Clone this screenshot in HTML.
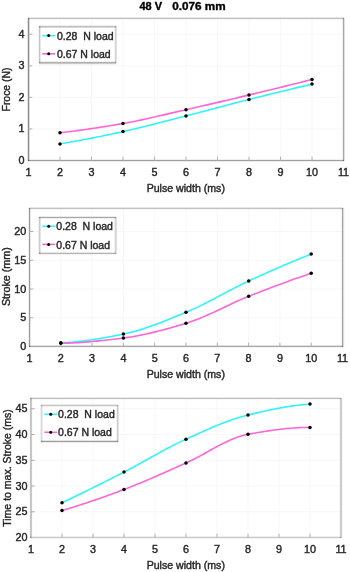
<!DOCTYPE html>
<html><head><meta charset="utf-8"><style>
html,body{margin:0;padding:0;background:#fff;width:350px;height:572px;overflow:hidden}
svg{display:block;will-change:transform}
text{font-family:"Liberation Sans",sans-serif}
</style></head><body>
<svg width="350" height="572" viewBox="0 0 350 572">
<rect width="350" height="572" fill="#fff"/>
<g stroke="#f7f7f7" stroke-width="1">
<line x1="60.00" y1="18.5" x2="60.00" y2="160.5"/>
<line x1="91.50" y1="18.5" x2="91.50" y2="160.5"/>
<line x1="123.00" y1="18.5" x2="123.00" y2="160.5"/>
<line x1="154.50" y1="18.5" x2="154.50" y2="160.5"/>
<line x1="186.00" y1="18.5" x2="186.00" y2="160.5"/>
<line x1="217.50" y1="18.5" x2="217.50" y2="160.5"/>
<line x1="249.00" y1="18.5" x2="249.00" y2="160.5"/>
<line x1="280.50" y1="18.5" x2="280.50" y2="160.5"/>
<line x1="312.00" y1="18.5" x2="312.00" y2="160.5"/>
<line x1="28.5" y1="128.94" x2="343.5" y2="128.94"/>
<line x1="28.5" y1="97.39" x2="343.5" y2="97.39"/>
<line x1="28.5" y1="65.83" x2="343.5" y2="65.83"/>
<line x1="28.5" y1="34.28" x2="343.5" y2="34.28"/>
<line x1="60.80" y1="208.5" x2="60.80" y2="346.5"/>
<line x1="92.10" y1="208.5" x2="92.10" y2="346.5"/>
<line x1="123.40" y1="208.5" x2="123.40" y2="346.5"/>
<line x1="154.70" y1="208.5" x2="154.70" y2="346.5"/>
<line x1="186.00" y1="208.5" x2="186.00" y2="346.5"/>
<line x1="217.30" y1="208.5" x2="217.30" y2="346.5"/>
<line x1="248.60" y1="208.5" x2="248.60" y2="346.5"/>
<line x1="279.90" y1="208.5" x2="279.90" y2="346.5"/>
<line x1="311.20" y1="208.5" x2="311.20" y2="346.5"/>
<line x1="29.5" y1="317.75" x2="342.5" y2="317.75"/>
<line x1="29.5" y1="289.00" x2="342.5" y2="289.00"/>
<line x1="29.5" y1="260.25" x2="342.5" y2="260.25"/>
<line x1="29.5" y1="231.50" x2="342.5" y2="231.50"/>
<line x1="62.00" y1="398.5" x2="62.00" y2="537.5"/>
<line x1="93.00" y1="398.5" x2="93.00" y2="537.5"/>
<line x1="124.00" y1="398.5" x2="124.00" y2="537.5"/>
<line x1="155.00" y1="398.5" x2="155.00" y2="537.5"/>
<line x1="186.00" y1="398.5" x2="186.00" y2="537.5"/>
<line x1="217.00" y1="398.5" x2="217.00" y2="537.5"/>
<line x1="248.00" y1="398.5" x2="248.00" y2="537.5"/>
<line x1="279.00" y1="398.5" x2="279.00" y2="537.5"/>
<line x1="310.00" y1="398.5" x2="310.00" y2="537.5"/>
<line x1="31.0" y1="511.76" x2="341.0" y2="511.76"/>
<line x1="31.0" y1="486.02" x2="341.0" y2="486.02"/>
<line x1="31.0" y1="460.28" x2="341.0" y2="460.28"/>
<line x1="31.0" y1="434.54" x2="341.0" y2="434.54"/>
<line x1="31.0" y1="408.80" x2="341.0" y2="408.80"/>
</g>
<g fill="#000">
<rect x="28" y="17" width="316" height="1" fill-opacity="0.098"/>
<rect x="28" y="18" width="316" height="1" fill-opacity="0.239"/>
<rect x="28" y="19" width="316" height="1" fill-opacity="0.027"/>
<rect x="28" y="159" width="316" height="1" fill-opacity="0.059"/>
<rect x="28" y="160" width="316" height="1" fill-opacity="0.373"/>
<rect x="28" y="161" width="316" height="1" fill-opacity="0.075"/>
<rect x="27" y="18" width="1" height="143" fill-opacity="0.098"/>
<rect x="28" y="18" width="1" height="143" fill-opacity="0.459"/>
<rect x="29" y="18" width="1" height="143" fill-opacity="0.137"/>
<rect x="342" y="18" width="1" height="143" fill-opacity="0.059"/>
<rect x="343" y="18" width="1" height="143" fill-opacity="0.341"/>
<rect x="344" y="18" width="1" height="143" fill-opacity="0.122"/>
<rect x="29" y="207" width="314" height="1" fill-opacity="0.098"/>
<rect x="29" y="208" width="314" height="1" fill-opacity="0.239"/>
<rect x="29" y="209" width="314" height="1" fill-opacity="0.027"/>
<rect x="29" y="345" width="314" height="1" fill-opacity="0.114"/>
<rect x="29" y="346" width="314" height="1" fill-opacity="0.341"/>
<rect x="29" y="347" width="314" height="1" fill-opacity="0.043"/>
<rect x="28" y="208" width="1" height="139" fill-opacity="0.059"/>
<rect x="29" y="208" width="1" height="139" fill-opacity="0.396"/>
<rect x="30" y="208" width="1" height="139" fill-opacity="0.090"/>
<rect x="341" y="208" width="1" height="139" fill-opacity="0.051"/>
<rect x="342" y="208" width="1" height="139" fill-opacity="0.341"/>
<rect x="343" y="208" width="1" height="139" fill-opacity="0.137"/>
<rect x="344" y="208" width="1" height="139" fill-opacity="0.020"/>
<rect x="30" y="397" width="311" height="1" fill-opacity="0.082"/>
<rect x="30" y="398" width="311" height="1" fill-opacity="0.247"/>
<rect x="30" y="399" width="311" height="1" fill-opacity="0.027"/>
<rect x="30" y="536" width="311" height="1" fill-opacity="0.067"/>
<rect x="30" y="537" width="311" height="1" fill-opacity="0.200"/>
<rect x="30" y="538" width="311" height="1" fill-opacity="0.059"/>
<rect x="29" y="398" width="1" height="140" fill-opacity="0.027"/>
<rect x="30" y="398" width="1" height="140" fill-opacity="0.231"/>
<rect x="31" y="398" width="1" height="140" fill-opacity="0.216"/>
<rect x="32" y="398" width="1" height="140" fill-opacity="0.020"/>
<rect x="339" y="398" width="1" height="140" fill-opacity="0.027"/>
<rect x="340" y="398" width="1" height="140" fill-opacity="0.200"/>
<rect x="341" y="398" width="1" height="140" fill-opacity="0.200"/>
<rect x="342" y="398" width="1" height="140" fill-opacity="0.027"/>
</g>
<g stroke="#b0b0b0" stroke-width="1">
<line x1="60.00" y1="160.5" x2="60.00" y2="156.7"/>
<line x1="91.50" y1="160.5" x2="91.50" y2="156.7"/>
<line x1="123.00" y1="160.5" x2="123.00" y2="156.7"/>
<line x1="154.50" y1="160.5" x2="154.50" y2="156.7"/>
<line x1="186.00" y1="160.5" x2="186.00" y2="156.7"/>
<line x1="217.50" y1="160.5" x2="217.50" y2="156.7"/>
<line x1="249.00" y1="160.5" x2="249.00" y2="156.7"/>
<line x1="280.50" y1="160.5" x2="280.50" y2="156.7"/>
<line x1="312.00" y1="160.5" x2="312.00" y2="156.7"/>
<line x1="28.5" y1="128.94" x2="32.3" y2="128.94"/>
<line x1="28.5" y1="97.39" x2="32.3" y2="97.39"/>
<line x1="28.5" y1="65.83" x2="32.3" y2="65.83"/>
<line x1="28.5" y1="34.28" x2="32.3" y2="34.28"/>
<line x1="60.80" y1="346.5" x2="60.80" y2="342.7"/>
<line x1="92.10" y1="346.5" x2="92.10" y2="342.7"/>
<line x1="123.40" y1="346.5" x2="123.40" y2="342.7"/>
<line x1="154.70" y1="346.5" x2="154.70" y2="342.7"/>
<line x1="186.00" y1="346.5" x2="186.00" y2="342.7"/>
<line x1="217.30" y1="346.5" x2="217.30" y2="342.7"/>
<line x1="248.60" y1="346.5" x2="248.60" y2="342.7"/>
<line x1="279.90" y1="346.5" x2="279.90" y2="342.7"/>
<line x1="311.20" y1="346.5" x2="311.20" y2="342.7"/>
<line x1="29.5" y1="317.75" x2="33.3" y2="317.75"/>
<line x1="29.5" y1="289.00" x2="33.3" y2="289.00"/>
<line x1="29.5" y1="260.25" x2="33.3" y2="260.25"/>
<line x1="29.5" y1="231.50" x2="33.3" y2="231.50"/>
<line x1="62.00" y1="537.5" x2="62.00" y2="533.7"/>
<line x1="93.00" y1="537.5" x2="93.00" y2="533.7"/>
<line x1="124.00" y1="537.5" x2="124.00" y2="533.7"/>
<line x1="155.00" y1="537.5" x2="155.00" y2="533.7"/>
<line x1="186.00" y1="537.5" x2="186.00" y2="533.7"/>
<line x1="217.00" y1="537.5" x2="217.00" y2="533.7"/>
<line x1="248.00" y1="537.5" x2="248.00" y2="533.7"/>
<line x1="279.00" y1="537.5" x2="279.00" y2="533.7"/>
<line x1="310.00" y1="537.5" x2="310.00" y2="533.7"/>
<line x1="31.0" y1="511.76" x2="34.8" y2="511.76"/>
<line x1="31.0" y1="486.02" x2="34.8" y2="486.02"/>
<line x1="31.0" y1="460.28" x2="34.8" y2="460.28"/>
<line x1="31.0" y1="434.54" x2="34.8" y2="434.54"/>
<line x1="31.0" y1="408.80" x2="34.8" y2="408.80"/>
</g>
<g fill="none" stroke-width="1.6">
<polyline points="60.00,143.90 62.12,143.54 64.24,143.18 66.35,142.81 68.47,142.44 70.59,142.07 72.71,141.69 74.82,141.30 76.94,140.92 79.06,140.52 81.18,140.13 83.29,139.73 85.41,139.33 87.53,138.92 89.65,138.51 91.76,138.10 93.88,137.68 96.00,137.26 98.12,136.83 100.24,136.41 102.35,135.98 104.47,135.54 106.59,135.10 108.71,134.66 110.82,134.22 112.94,133.77 115.06,133.32 117.18,132.86 119.29,132.41 121.41,131.95 123.53,131.48 125.65,131.01 127.76,130.54 129.88,130.05 132.00,129.56 134.12,129.07 136.24,128.56 138.35,128.06 140.47,127.54 142.59,127.02 144.71,126.50 146.82,125.97 148.94,125.44 151.06,124.91 153.18,124.37 155.29,123.83 157.41,123.29 159.53,122.74 161.65,122.19 163.76,121.65 165.88,121.10 168.00,120.55 170.12,120.00 172.24,119.45 174.35,118.90 176.47,118.35 178.59,117.80 180.71,117.26 182.82,116.71 184.94,116.17 187.06,115.63 189.18,115.09 191.29,114.54 193.41,114.00 195.53,113.45 197.65,112.90 199.76,112.35 201.88,111.79 204.00,111.24 206.12,110.68 208.24,110.12 210.35,109.57 212.47,109.01 214.59,108.45 216.71,107.89 218.82,107.33 220.94,106.77 223.06,106.22 225.18,105.66 227.29,105.10 229.41,104.55 231.53,103.99 233.65,103.44 235.76,102.89 237.88,102.34 240.00,101.79 242.12,101.25 244.24,100.71 246.35,100.17 248.47,99.63 250.59,99.10 252.71,98.57 254.82,98.04 256.94,97.51 259.06,96.98 261.18,96.45 263.29,95.92 265.41,95.39 267.53,94.87 269.65,94.35 271.76,93.82 273.88,93.30 276.00,92.78 278.12,92.26 280.24,91.74 282.35,91.22 284.47,90.71 286.59,90.19 288.71,89.68 290.82,89.17 292.94,88.65 295.06,88.14 297.18,87.63 299.29,87.13 301.41,86.62 303.53,86.11 305.65,85.61 307.76,85.10 309.88,84.60 312.00,84.10" stroke="#30f4f8"/>
<polyline points="60.00,132.70 62.12,132.46 64.24,132.22 66.35,131.98 68.47,131.72 70.59,131.46 72.71,131.20 74.82,130.93 76.94,130.65 79.06,130.37 81.18,130.09 83.29,129.79 85.41,129.50 87.53,129.20 89.65,128.89 91.76,128.58 93.88,128.26 96.00,127.94 98.12,127.62 100.24,127.29 102.35,126.95 104.47,126.62 106.59,126.27 108.71,125.93 110.82,125.58 112.94,125.23 115.06,124.87 117.18,124.51 119.29,124.14 121.41,123.78 123.53,123.41 125.65,123.03 127.76,122.64 129.88,122.24 132.00,121.83 134.12,121.41 136.24,120.98 138.35,120.54 140.47,120.10 142.59,119.65 144.71,119.19 146.82,118.72 148.94,118.25 151.06,117.78 153.18,117.30 155.29,116.82 157.41,116.33 159.53,115.84 161.65,115.35 163.76,114.86 165.88,114.36 168.00,113.87 170.12,113.37 172.24,112.88 174.35,112.38 176.47,111.89 178.59,111.40 180.71,110.91 182.82,110.42 184.94,109.94 187.06,109.46 189.18,108.98 191.29,108.50 193.41,108.02 195.53,107.53 197.65,107.05 199.76,106.56 201.88,106.08 204.00,105.59 206.12,105.10 208.24,104.61 210.35,104.12 212.47,103.63 214.59,103.14 216.71,102.64 218.82,102.15 220.94,101.65 223.06,101.15 225.18,100.66 227.29,100.16 229.41,99.66 231.53,99.16 233.65,98.66 235.76,98.16 237.88,97.65 240.00,97.15 242.12,96.64 244.24,96.14 246.35,95.63 248.47,95.13 250.59,94.62 252.71,94.11 254.82,93.60 256.94,93.09 259.06,92.58 261.18,92.07 263.29,91.55 265.41,91.04 267.53,90.53 269.65,90.01 271.76,89.49 273.88,88.98 276.00,88.46 278.12,87.94 280.24,87.42 282.35,86.90 284.47,86.37 286.59,85.85 288.71,85.33 290.82,84.80 292.94,84.27 295.06,83.75 297.18,83.22 299.29,82.69 301.41,82.16 303.53,81.63 305.65,81.10 307.76,80.57 309.88,80.03 312.00,79.50" stroke="#ff66d8"/>
<circle cx="60" cy="143.9" r="1.75" fill="#000" stroke="none"/>
<circle cx="123" cy="131.6" r="1.75" fill="#000" stroke="none"/>
<circle cx="186" cy="115.9" r="1.75" fill="#000" stroke="none"/>
<circle cx="249" cy="99.5" r="1.75" fill="#000" stroke="none"/>
<circle cx="312" cy="84.1" r="1.75" fill="#000" stroke="none"/>
<circle cx="60" cy="132.7" r="1.75" fill="#000" stroke="none"/>
<circle cx="123" cy="123.5" r="1.75" fill="#000" stroke="none"/>
<circle cx="186" cy="109.7" r="1.75" fill="#000" stroke="none"/>
<circle cx="249" cy="95" r="1.75" fill="#000" stroke="none"/>
<circle cx="312" cy="79.5" r="1.75" fill="#000" stroke="none"/>
<polyline points="60.80,342.80 62.90,342.72 65.01,342.61 67.11,342.49 69.22,342.35 71.32,342.19 73.43,342.01 75.53,341.81 77.63,341.60 79.74,341.37 81.84,341.13 83.95,340.87 86.05,340.59 88.15,340.31 90.26,340.01 92.36,339.70 94.47,339.37 96.57,339.04 98.68,338.69 100.78,338.34 102.88,337.98 104.99,337.61 107.09,337.23 109.20,336.84 111.30,336.45 113.41,336.05 115.51,335.65 117.61,335.24 119.72,334.83 121.82,334.41 123.93,333.99 126.03,333.55 128.13,333.08 130.24,332.57 132.34,332.04 134.45,331.47 136.55,330.88 138.66,330.27 140.76,329.63 142.86,328.96 144.97,328.28 147.07,327.57 149.18,326.84 151.28,326.10 153.38,325.34 155.49,324.56 157.59,323.77 159.70,322.97 161.80,322.15 163.91,321.32 166.01,320.49 168.11,319.64 170.22,318.79 172.32,317.93 174.43,317.07 176.53,316.20 178.64,315.33 180.74,314.47 182.84,313.60 184.95,312.73 187.05,311.86 189.16,310.97 191.26,310.05 193.36,309.11 195.47,308.14 197.57,307.14 199.68,306.13 201.78,305.10 203.89,304.05 205.99,302.99 208.09,301.91 210.20,300.82 212.30,299.72 214.41,298.61 216.51,297.50 218.62,296.39 220.72,295.27 222.82,294.15 224.93,293.03 227.03,291.91 229.14,290.80 231.24,289.69 233.34,288.59 235.45,287.51 237.55,286.43 239.66,285.37 241.76,284.32 243.87,283.29 245.97,282.28 248.07,281.29 250.18,280.32 252.28,279.35 254.39,278.39 256.49,277.43 258.59,276.47 260.70,275.52 262.80,274.58 264.91,273.63 267.01,272.70 269.12,271.76 271.22,270.84 273.32,269.91 275.43,268.99 277.53,268.08 279.64,267.17 281.74,266.26 283.85,265.36 285.95,264.47 288.05,263.58 290.16,262.69 292.26,261.81 294.37,260.93 296.47,260.06 298.57,259.19 300.68,258.33 302.78,257.47 304.89,256.62 306.99,255.78 309.10,254.94 311.20,254.10" stroke="#30f4f8"/>
<polyline points="60.80,343.30 62.90,343.27 65.01,343.23 67.11,343.17 69.22,343.10 71.32,343.01 73.43,342.92 75.53,342.81 77.63,342.68 79.74,342.55 81.84,342.40 83.95,342.25 86.05,342.08 88.15,341.90 90.26,341.72 92.36,341.52 94.47,341.32 96.57,341.11 98.68,340.90 100.78,340.67 102.88,340.45 104.99,340.21 107.09,339.97 109.20,339.73 111.30,339.48 113.41,339.23 115.51,338.97 117.61,338.72 119.72,338.46 121.82,338.20 123.93,337.93 126.03,337.66 128.13,337.36 130.24,337.04 132.34,336.70 134.45,336.34 136.55,335.97 138.66,335.57 140.76,335.16 142.86,334.74 144.97,334.29 147.07,333.84 149.18,333.36 151.28,332.88 153.38,332.37 155.49,331.86 157.59,331.33 159.70,330.79 161.80,330.24 163.91,329.68 166.01,329.11 168.11,328.53 170.22,327.94 172.32,327.35 174.43,326.74 176.53,326.13 178.64,325.51 180.74,324.88 182.84,324.25 184.95,323.62 187.05,322.98 189.16,322.30 191.26,321.58 193.36,320.83 195.47,320.05 197.57,319.23 199.68,318.39 201.78,317.52 203.89,316.63 205.99,315.72 208.09,314.79 210.20,313.84 212.30,312.88 214.41,311.91 216.51,310.92 218.62,309.93 220.72,308.94 222.82,307.94 224.93,306.94 227.03,305.94 229.14,304.94 231.24,303.96 233.34,302.98 235.45,302.01 237.55,301.05 239.66,300.11 241.76,299.19 243.87,298.29 245.97,297.41 248.07,296.55 250.18,295.71 252.28,294.88 254.39,294.06 256.49,293.23 258.59,292.42 260.70,291.60 262.80,290.79 264.91,289.98 267.01,289.18 269.12,288.38 271.22,287.58 273.32,286.79 275.43,286.01 277.53,285.22 279.64,284.45 281.74,283.67 283.85,282.90 285.95,282.14 288.05,281.38 290.16,280.62 292.26,279.87 294.37,279.12 296.47,278.37 298.57,277.64 300.68,276.90 302.78,276.17 304.89,275.45 306.99,274.73 309.10,274.01 311.20,273.30" stroke="#ff66d8"/>
<circle cx="60.8" cy="342.8" r="1.75" fill="#000" stroke="none"/>
<circle cx="123.4" cy="334.1" r="1.75" fill="#000" stroke="none"/>
<circle cx="186" cy="312.3" r="1.75" fill="#000" stroke="none"/>
<circle cx="248.7" cy="281" r="1.75" fill="#000" stroke="none"/>
<circle cx="311.2" cy="254.1" r="1.75" fill="#000" stroke="none"/>
<circle cx="60.8" cy="343.3" r="1.75" fill="#000" stroke="none"/>
<circle cx="123.4" cy="338" r="1.75" fill="#000" stroke="none"/>
<circle cx="186" cy="323.3" r="1.75" fill="#000" stroke="none"/>
<circle cx="248.7" cy="296.3" r="1.75" fill="#000" stroke="none"/>
<circle cx="311.2" cy="273.3" r="1.75" fill="#000" stroke="none"/>
<polyline points="62.00,502.80 64.08,501.80 66.17,500.80 68.25,499.80 70.34,498.80 72.42,497.79 74.50,496.78 76.59,495.77 78.67,494.76 80.76,493.74 82.84,492.72 84.92,491.70 87.01,490.68 89.09,489.65 91.18,488.62 93.26,487.59 95.34,486.56 97.43,485.52 99.51,484.48 101.60,483.44 103.68,482.40 105.76,481.35 107.85,480.30 109.93,479.25 112.02,478.20 114.10,477.14 116.18,476.09 118.27,475.03 120.35,473.96 122.44,472.90 124.52,471.83 126.61,470.75 128.69,469.66 130.77,468.55 132.86,467.43 134.94,466.30 137.03,465.16 139.11,464.02 141.19,462.86 143.28,461.70 145.36,460.54 147.45,459.38 149.53,458.22 151.61,457.05 153.70,455.89 155.78,454.73 157.87,453.58 159.95,452.43 162.03,451.29 164.12,450.16 166.20,449.04 168.29,447.94 170.37,446.84 172.45,445.76 174.54,444.70 176.62,443.65 178.71,442.63 180.79,441.62 182.87,440.63 184.96,439.67 187.04,438.73 189.13,437.79 191.21,436.85 193.29,435.90 195.38,434.96 197.46,434.02 199.55,433.08 201.63,432.14 203.71,431.21 205.80,430.29 207.88,429.37 209.97,428.47 212.05,427.57 214.13,426.69 216.22,425.82 218.30,424.96 220.39,424.12 222.47,423.29 224.55,422.48 226.64,421.69 228.72,420.92 230.81,420.18 232.89,419.45 234.97,418.75 237.06,418.08 239.14,417.43 241.23,416.81 243.31,416.22 245.39,415.66 247.48,415.13 249.56,414.62 251.65,414.12 253.73,413.63 255.82,413.14 257.90,412.65 259.98,412.17 262.07,411.70 264.15,411.24 266.24,410.78 268.32,410.34 270.40,409.90 272.49,409.47 274.57,409.05 276.66,408.65 278.74,408.25 280.82,407.87 282.91,407.50 284.99,407.14 287.08,406.80 289.16,406.47 291.24,406.16 293.33,405.86 295.41,405.57 297.50,405.31 299.58,405.06 301.66,404.83 303.75,404.62 305.83,404.43 307.92,404.25 310.00,404.10" stroke="#30f4f8"/>
<polyline points="62.00,510.60 64.08,509.98 66.17,509.35 68.25,508.71 70.34,508.07 72.42,507.42 74.50,506.77 76.59,506.11 78.67,505.44 80.76,504.77 82.84,504.09 84.92,503.40 87.01,502.71 89.09,502.01 91.18,501.31 93.26,500.60 95.34,499.88 97.43,499.16 99.51,498.43 101.60,497.70 103.68,496.96 105.76,496.22 107.85,495.47 109.93,494.72 112.02,493.96 114.10,493.20 116.18,492.43 118.27,491.65 120.35,490.87 122.44,490.09 124.52,489.30 126.61,488.50 128.69,487.70 130.77,486.88 132.86,486.05 134.94,485.21 137.03,484.36 139.11,483.51 141.19,482.65 143.28,481.77 145.36,480.90 147.45,480.01 149.53,479.12 151.61,478.23 153.70,477.32 155.78,476.42 157.87,475.51 159.95,474.59 162.03,473.67 164.12,472.75 166.20,471.83 168.29,470.90 170.37,469.97 172.45,469.04 174.54,468.11 176.62,467.18 178.71,466.25 180.79,465.32 182.87,464.39 184.96,463.46 187.04,462.53 189.13,461.56 191.21,460.56 193.29,459.51 195.38,458.44 197.46,457.34 199.55,456.23 201.63,455.09 203.71,453.94 205.80,452.78 207.88,451.62 209.97,450.46 212.05,449.30 214.13,448.15 216.22,447.02 218.30,445.90 220.39,444.80 222.47,443.73 224.55,442.68 226.64,441.68 228.72,440.71 230.81,439.78 232.89,438.90 234.97,438.07 237.06,437.29 239.14,436.58 241.23,435.92 243.31,435.34 245.39,434.83 247.48,434.40 249.56,434.02 251.65,433.65 253.73,433.29 255.82,432.93 257.90,432.57 259.98,432.23 262.07,431.89 264.15,431.55 266.24,431.23 268.32,430.91 270.40,430.61 272.49,430.31 274.57,430.03 276.66,429.75 278.74,429.49 280.82,429.24 282.91,429.01 284.99,428.78 287.08,428.57 289.16,428.38 291.24,428.20 293.33,428.04 295.41,427.90 297.50,427.77 299.58,427.66 301.66,427.57 303.75,427.49 305.83,427.44 307.92,427.41 310.00,427.40" stroke="#ff66d8"/>
<circle cx="62" cy="502.8" r="1.75" fill="#000" stroke="none"/>
<circle cx="124" cy="472.1" r="1.75" fill="#000" stroke="none"/>
<circle cx="186" cy="439.2" r="1.75" fill="#000" stroke="none"/>
<circle cx="248" cy="415" r="1.75" fill="#000" stroke="none"/>
<circle cx="310" cy="404.1" r="1.75" fill="#000" stroke="none"/>
<circle cx="62" cy="510.6" r="1.75" fill="#000" stroke="none"/>
<circle cx="124" cy="489.5" r="1.75" fill="#000" stroke="none"/>
<circle cx="186" cy="463" r="1.75" fill="#000" stroke="none"/>
<circle cx="248" cy="434.3" r="1.75" fill="#000" stroke="none"/>
<circle cx="310" cy="427.4" r="1.75" fill="#000" stroke="none"/>
</g>
<g fill="#000" stroke-width="1.6">
<rect x="39" y="26" width="77" height="37" fill="#fff"/>
<rect x="39" y="25" width="77" height="1" fill-opacity="0.059"/>
<rect x="39" y="26" width="77" height="1" fill-opacity="0.247"/>
<rect x="39" y="27" width="77" height="1" fill-opacity="0.153"/>
<rect x="39" y="61" width="77" height="1" fill-opacity="0.059"/>
<rect x="39" y="62" width="77" height="1" fill-opacity="0.310"/>
<rect x="39" y="63" width="77" height="1" fill-opacity="0.216"/>
<rect x="39" y="64" width="77" height="1" fill-opacity="0.043"/>
<rect x="38" y="26" width="1" height="37" fill-opacity="0.043"/>
<rect x="39" y="26" width="1" height="37" fill-opacity="0.231"/>
<rect x="40" y="26" width="1" height="37" fill-opacity="0.090"/>
<rect x="114" y="26" width="1" height="37" fill-opacity="0.043"/>
<rect x="115" y="26" width="1" height="37" fill-opacity="0.169"/>
<rect x="116" y="26" width="1" height="37" fill-opacity="0.122"/>
<line x1="42.3" y1="35.6" x2="55.1" y2="35.6" stroke="#30f4f8" stroke-width="1.6"/>
<circle cx="48.7" cy="35.6" r="1.5" fill="#000"/>
<line x1="42.3" y1="53.8" x2="55.1" y2="53.8" stroke="#ff66d8" stroke-width="1.6"/>
<circle cx="48.7" cy="53.8" r="1.5" fill="#000"/>
<rect x="39" y="217" width="77" height="37" fill="#fff"/>
<rect x="39" y="216" width="77" height="1" fill-opacity="0.075"/>
<rect x="39" y="217" width="77" height="1" fill-opacity="0.341"/>
<rect x="39" y="218" width="77" height="1" fill-opacity="0.059"/>
<rect x="39" y="252" width="77" height="1" fill-opacity="0.090"/>
<rect x="39" y="253" width="77" height="1" fill-opacity="0.294"/>
<rect x="39" y="254" width="77" height="1" fill-opacity="0.043"/>
<rect x="38" y="217" width="1" height="37" fill-opacity="0.059"/>
<rect x="39" y="217" width="1" height="37" fill-opacity="0.200"/>
<rect x="40" y="217" width="1" height="37" fill-opacity="0.106"/>
<rect x="114" y="217" width="1" height="37" fill-opacity="0.059"/>
<rect x="115" y="217" width="1" height="37" fill-opacity="0.169"/>
<rect x="116" y="217" width="1" height="37" fill-opacity="0.114"/>
<rect x="117" y="217" width="1" height="37" fill-opacity="0.020"/>
<line x1="42.3" y1="226.3" x2="55.1" y2="226.3" stroke="#30f4f8" stroke-width="1.6"/>
<circle cx="48.7" cy="226.3" r="1.5" fill="#000"/>
<line x1="42.3" y1="244.4" x2="55.1" y2="244.4" stroke="#ff66d8" stroke-width="1.6"/>
<circle cx="48.7" cy="244.4" r="1.5" fill="#000"/>
<rect x="41" y="405" width="77" height="37" fill="#fff"/>
<rect x="41" y="404" width="77" height="1" fill-opacity="0.090"/>
<rect x="41" y="405" width="77" height="1" fill-opacity="0.216"/>
<rect x="41" y="406" width="77" height="1" fill-opacity="0.067"/>
<rect x="41" y="440" width="77" height="1" fill-opacity="0.098"/>
<rect x="41" y="441" width="77" height="1" fill-opacity="0.388"/>
<rect x="41" y="442" width="77" height="1" fill-opacity="0.067"/>
<rect x="40" y="405" width="1" height="37" fill-opacity="0.059"/>
<rect x="41" y="405" width="1" height="37" fill-opacity="0.153"/>
<rect x="42" y="405" width="1" height="37" fill-opacity="0.075"/>
<rect x="116" y="405" width="1" height="37" fill-opacity="0.043"/>
<rect x="117" y="405" width="1" height="37" fill-opacity="0.200"/>
<rect x="118" y="405" width="1" height="37" fill-opacity="0.106"/>
<line x1="44.3" y1="414.3" x2="57.1" y2="414.3" stroke="#30f4f8" stroke-width="1.6"/>
<circle cx="50.7" cy="414.3" r="1.5" fill="#000"/>
<line x1="44.3" y1="432.3" x2="57.1" y2="432.3" stroke="#ff66d8" stroke-width="1.6"/>
<circle cx="50.7" cy="432.3" r="1.5" fill="#000"/>
</g>
<g fill="#262626" stroke="#262626" stroke-width="0.4" paint-order="stroke">
<text x="28.50" y="176.1" text-anchor="middle" font-size="10.8">1</text>
<text x="60.00" y="176.1" text-anchor="middle" font-size="10.8">2</text>
<text x="91.50" y="176.1" text-anchor="middle" font-size="10.8">3</text>
<text x="123.00" y="176.1" text-anchor="middle" font-size="10.8">4</text>
<text x="154.50" y="176.1" text-anchor="middle" font-size="10.8">5</text>
<text x="186.00" y="176.1" text-anchor="middle" font-size="10.8">6</text>
<text x="217.50" y="176.1" text-anchor="middle" font-size="10.8">7</text>
<text x="249.00" y="176.1" text-anchor="middle" font-size="10.8">8</text>
<text x="280.50" y="176.1" text-anchor="middle" font-size="10.8">9</text>
<text x="312.00" y="176.1" text-anchor="middle" font-size="10.8">10</text>
<text x="343.50" y="176.1" text-anchor="middle" font-size="10.8">11</text>
<text x="24.4" y="164.00" text-anchor="end" font-size="10.8">0</text>
<text x="24.4" y="132.44" text-anchor="end" font-size="10.8">1</text>
<text x="24.4" y="100.89" text-anchor="end" font-size="10.8">2</text>
<text x="24.4" y="69.33" text-anchor="end" font-size="10.8">3</text>
<text x="24.4" y="37.78" text-anchor="end" font-size="10.8">4</text>
<text transform="translate(9.6,89.5) rotate(-90)" text-anchor="middle" font-size="10.4">Froce (N)</text>
<text x="185.8" y="192.2" text-anchor="middle" font-size="10.6">Pulse width (ms)</text>
<text x="57" y="39.7" font-size="10.5">0.28&#160;&#160;N load</text>
<text x="57" y="57.9" font-size="10.5">0.67 N load</text>
<text x="29.50" y="361.8" text-anchor="middle" font-size="10.8">1</text>
<text x="60.80" y="361.8" text-anchor="middle" font-size="10.8">2</text>
<text x="92.10" y="361.8" text-anchor="middle" font-size="10.8">3</text>
<text x="123.40" y="361.8" text-anchor="middle" font-size="10.8">4</text>
<text x="154.70" y="361.8" text-anchor="middle" font-size="10.8">5</text>
<text x="186.00" y="361.8" text-anchor="middle" font-size="10.8">6</text>
<text x="217.30" y="361.8" text-anchor="middle" font-size="10.8">7</text>
<text x="248.60" y="361.8" text-anchor="middle" font-size="10.8">8</text>
<text x="279.90" y="361.8" text-anchor="middle" font-size="10.8">9</text>
<text x="311.20" y="361.8" text-anchor="middle" font-size="10.8">10</text>
<text x="342.50" y="361.8" text-anchor="middle" font-size="10.8">11</text>
<text x="26.2" y="350.00" text-anchor="end" font-size="10.8">0</text>
<text x="26.2" y="321.25" text-anchor="end" font-size="10.8">5</text>
<text x="26.2" y="292.50" text-anchor="end" font-size="10.8">10</text>
<text x="26.2" y="263.75" text-anchor="end" font-size="10.8">15</text>
<text x="26.2" y="235.00" text-anchor="end" font-size="10.8">20</text>
<text transform="translate(10.3,276.7) rotate(-90)" text-anchor="middle" font-size="10.7">Stroke (mm)</text>
<text x="185.8" y="377.5" text-anchor="middle" font-size="10.6">Pulse width (ms)</text>
<text x="56.3" y="230.4" font-size="10.5">0.28&#160;&#160;N load</text>
<text x="56.3" y="248.5" font-size="10.5">0.67 N load</text>
<text x="31.00" y="553.0" text-anchor="middle" font-size="10.8">1</text>
<text x="62.00" y="553.0" text-anchor="middle" font-size="10.8">2</text>
<text x="93.00" y="553.0" text-anchor="middle" font-size="10.8">3</text>
<text x="124.00" y="553.0" text-anchor="middle" font-size="10.8">4</text>
<text x="155.00" y="553.0" text-anchor="middle" font-size="10.8">5</text>
<text x="186.00" y="553.0" text-anchor="middle" font-size="10.8">6</text>
<text x="217.00" y="553.0" text-anchor="middle" font-size="10.8">7</text>
<text x="248.00" y="553.0" text-anchor="middle" font-size="10.8">8</text>
<text x="279.00" y="553.0" text-anchor="middle" font-size="10.8">9</text>
<text x="310.00" y="553.0" text-anchor="middle" font-size="10.8">10</text>
<text x="341.00" y="553.0" text-anchor="middle" font-size="10.8">11</text>
<text x="27.6" y="541.00" text-anchor="end" font-size="10.8">20</text>
<text x="27.6" y="515.26" text-anchor="end" font-size="10.8">25</text>
<text x="27.6" y="489.52" text-anchor="end" font-size="10.8">30</text>
<text x="27.6" y="463.78" text-anchor="end" font-size="10.8">35</text>
<text x="27.6" y="438.04" text-anchor="end" font-size="10.8">40</text>
<text x="27.6" y="412.30" text-anchor="end" font-size="10.8">45</text>
<text transform="translate(10.7,468.0) rotate(-90)" text-anchor="middle" font-size="10.5">Time to max. Stroke (ms)</text>
<text x="185.8" y="569.1" text-anchor="middle" font-size="10.6">Pulse width (ms)</text>
<text x="58.1" y="418.40000000000003" font-size="10.5">0.28&#160;&#160;N load</text>
<text x="58.1" y="436.40000000000003" font-size="10.5">0.67 N load</text>
<text x="139.5" y="9.9" font-size="10.6" font-weight="bold" fill="#000" textLength="22.6" lengthAdjust="spacingAndGlyphs">48 V</text>
<text x="172.2" y="9.9" font-size="10.6" font-weight="bold" fill="#000" textLength="53.4" lengthAdjust="spacingAndGlyphs">0.076 mm</text>
</g>
</svg>
</body></html>
